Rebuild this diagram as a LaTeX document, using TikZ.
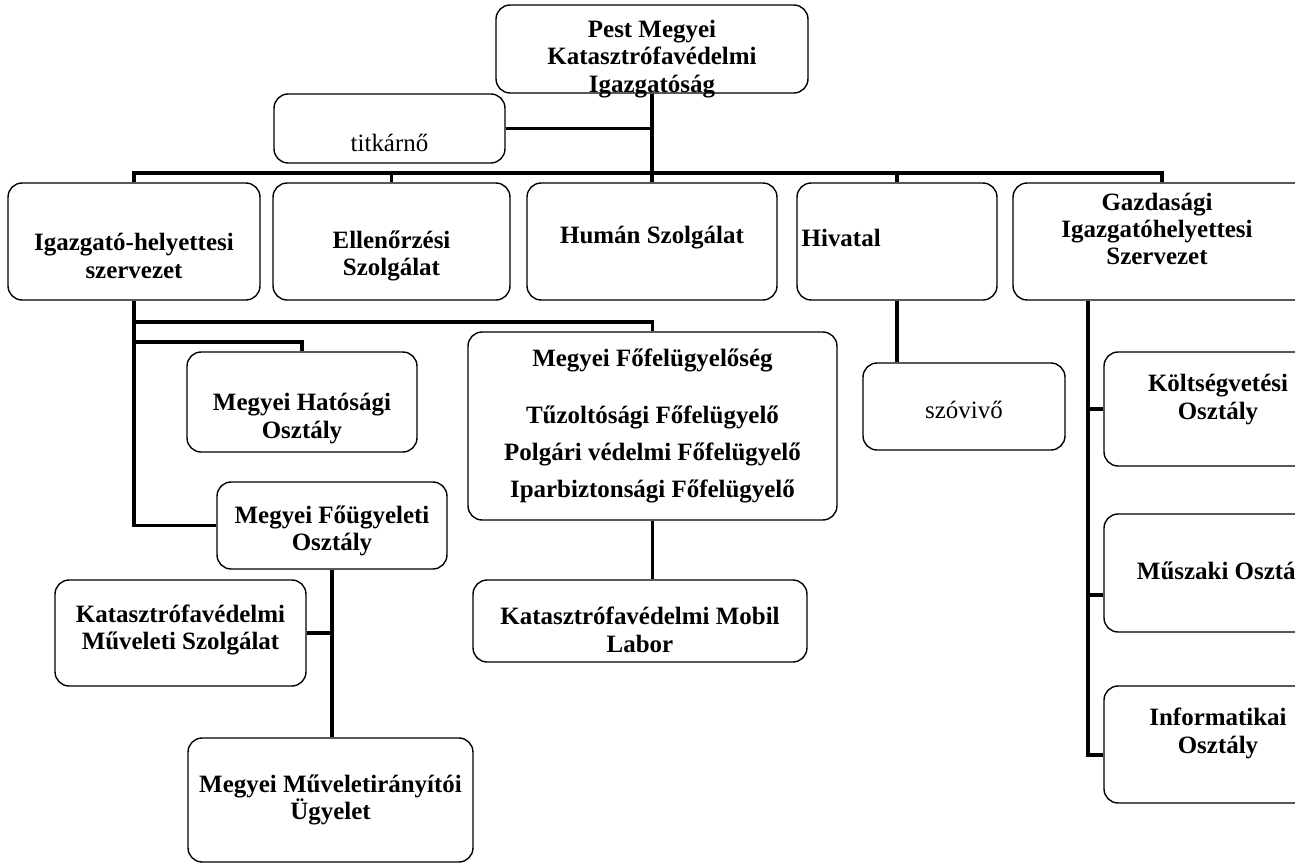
\documentclass[tikz,border=0pt]{standalone}
\usepackage{fontspec}
\setmainfont{Liberation Serif}

\begin{document}
\begin{tikzpicture}[x=0.02cm,y=-0.02cm,
  box/.style={draw,line width=0.8pt,rounded corners=8pt,inner sep=0pt},
  txt/.style={font=\bfseries\fontsize{14.2pt}{15.6pt}\selectfont,align=center,inner sep=0pt},
  plain/.style={font=\fontsize{14.2pt}{15.6pt}\selectfont,inner sep=0pt},
  link/.style={line width=2.2pt}]

\useasboundingbox (0,0) rectangle (1295,865);
\clip (0,0) rectangle (1295,865);

% top of the tree
\node[box,minimum width=6.24cm,minimum height=1.76cm,
  label={[txt,yshift=-0.2cm]center:{Pest Megyei\\Katasztrófavédelmi\\Igazgatóság}}] (dir) at (652,49) {};
\node[box,minimum width=4.62cm,minimum height=1.38cm,
  label={[plain,yshift=-0.29cm]center:titkárnő}] (titkar) at (389.5,128.5) {};

% second row
\node[box,minimum width=5.04cm,minimum height=2.34cm,
  label={[txt,yshift=-0.29cm]center:{Igazgató-helyettesi\\szervezet}}] (igh) at (134,241.5) {};
\node[box,minimum width=4.74cm,minimum height=2.34cm,
  label={[txt,yshift=-0.29cm]center:{Ellenőrzési\\Szolgálat}}] (ellen) at (391.5,241.5) {};
\node[box,minimum width=5cm,minimum height=2.34cm,
  label={[txt,yshift=0.07cm]center:Humán Szolgálat}] (human) at (652,241.5) {};
\node[box,minimum width=4cm,minimum height=2.34cm,
  label={[txt,anchor=west,xshift=0.1cm,yshift=0.07cm]west:Hivatal}] (hiv) at (897,241.5) {};
\node[box,minimum width=5.96cm,minimum height=2.34cm,
  label={[txt,xshift=-0.1cm,yshift=0.25cm]center:{Gazdasági\\Igazgatóhelyettesi\\Szervezet}}] (gazd) at (1162,241.5) {};

% under Igazgato-helyettesi szervezet
\node[box,minimum width=4.6cm,minimum height=2cm,
  label={[txt,yshift=-0.33cm]center:{Megyei Hatósági\\Osztály}}] (hat) at (302,402) {};
\node[box,minimum width=7.38cm,minimum height=3.76cm,
  label={[txt]center:{Megyei Főfelügyelőség\\[17pt]Tűzoltósági Főfelügyelő\\[5.4pt]Polgári védelmi Főfelügyelő\\[5.4pt]Iparbiztonsági Főfelügyelő}}] (ffel) at (652.5,426) {};
\node[box,minimum width=4.6cm,minimum height=1.74cm,
  label={[txt,yshift=-0.11cm]center:{Megyei Főügyeleti\\Osztály}}] (fougy) at (332,525.5) {};
\node[box,minimum width=5.02cm,minimum height=2.12cm,
  label={[txt,yshift=0.06cm]center:{Katasztrófavédelmi\\Műveleti Szolgálat}}] (katmuv) at (180.5,633) {};
\node[box,minimum width=5.7cm,minimum height=2.48cm,
  label={[txt]center:{Megyei Műveletirányítói\\Ügyelet}}] (muvir) at (330.5,800) {};
\node[box,minimum width=6.68cm,minimum height=1.64cm,
  label={[txt,yshift=-0.18cm]center:{Katasztrófavédelmi Mobil\\Labor}}] (mobil) at (640,621) {};

% Hivatal and Gazdasagi
\node[box,minimum width=4.04cm,minimum height=1.74cm,
  label={[plain,yshift=-0.07cm]center:szóvivő}] (szov) at (964,406.5) {};
\node[box,minimum width=4.56cm,minimum height=2.28cm,
  label={[txt,yshift=0.19cm]center:{Költségvetési\\Osztály}}] (kolt) at (1218,409) {};
\node[box,minimum width=4.56cm,minimum height=2.36cm,
  label={[txt,xshift=0.16cm]center:Műszaki Osztály}] (musz) at (1218,573) {};
\node[box,minimum width=4.56cm,minimum height=2.34cm,
  label={[txt,yshift=0.22cm]center:{Informatikai\\Osztály}}] (info) at (1218,744.5) {};

% connectors
\coordinate (bar) at (0,173);
\coordinate (lbar) at (0,322);
\coordinate (hbar) at (0,342);
\coordinate (gend) at (1088,755);
\coordinate (mbr) at (1088,595);

\draw[link] (dir.south) -- (human.north);
\draw[link] (titkar.east) -- (titkar.east -| dir.south);
\draw[link] (igh.north) |- (bar -| gazd.north) -- (gazd.north);
\foreach \n in {ellen,hiv}
  \draw[link] (\n.north) -- (\n.north |- bar);

\draw[link] (igh.south) |- (fougy.west);
\draw[link] (igh.south |- lbar) -| (ffel.north);
\draw[link] (igh.south |- hbar) -| (hat.north);
\draw[link] (fougy.south) -- (fougy.south |- muvir.north);
\draw[link] (katmuv.east) -- (katmuv.east -| fougy.south);
\draw[link] (ffel.south) -- (ffel.south |- mobil.north);

\draw[link] (hiv.south) -- (hiv.south |- szov.north);
\draw[link] (gazd.south -| gend) -- (gend) -- (gend -| info.west);
\draw[link] (kolt.west) -- (kolt.west -| gend);
\draw[link] (mbr) -- (mbr -| musz.west);

\end{tikzpicture}
\end{document}
